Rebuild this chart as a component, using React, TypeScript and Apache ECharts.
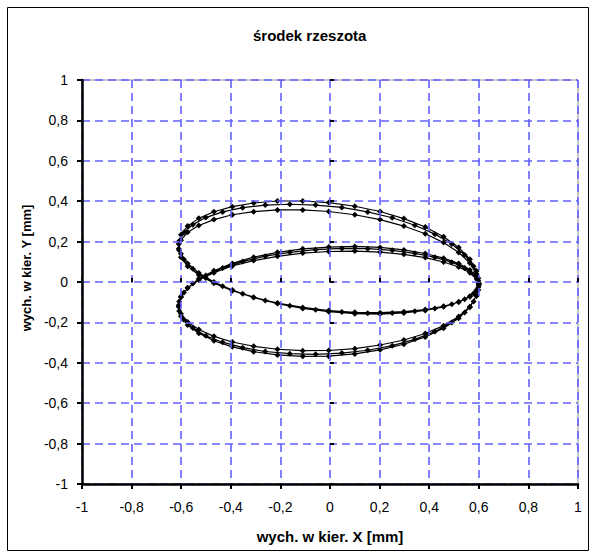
import React, { useEffect, useRef } from "react";
import * as echarts from "echarts";

// x positions (mm) for samples on the 5-degree grid and the offset grid (one half-cycle, repeats)
const xA = [0.600, 0.591, 0.564, 0.519, 0.458, 0.384, 0.298, 0.202, 0.100, -0.005, -0.110, -0.212, -0.308, -0.394, -0.468, -0.529, -0.574, -0.601, -0.610, -0.601, -0.574, -0.529, -0.468, -0.394, -0.308, -0.212, -0.110, -0.005, 0.100, 0.202, 0.298, 0.384, 0.458, 0.519, 0.564, 0.591];
const xB = [0.598, 0.579, 0.543, 0.491, 0.423, 0.342, 0.251, 0.152, 0.048, -0.058, -0.162, -0.261, -0.352, -0.433, -0.501, -0.553, -0.589, -0.608, -0.608, -0.589, -0.553, -0.501, -0.433, -0.352, -0.261, -0.162, -0.058, 0.048, 0.152, 0.251, 0.342, 0.423, 0.491, 0.543, 0.579, 0.598];

// y positions (mm) for three consecutive loops
const y1 = [-0.015, 0.040, 0.094, 0.146, 0.195, 0.239, 0.277, 0.309, 0.333, 0.349, 0.357, 0.357, 0.348, 0.333, 0.309, 0.280, 0.246, 0.207, 0.165, 0.122, 0.078, 0.035, -0.006, -0.043, -0.076, -0.104, -0.126, -0.141, -0.150, -0.152, -0.147, -0.136, -0.120, -0.099, -0.073, -0.045,
  -0.015, 0.016, 0.046, 0.074, 0.099, 0.121, 0.137, 0.148, 0.153, 0.151, 0.143, 0.127, 0.106, 0.079, 0.046, 0.010, -0.030, -0.072, -0.115, -0.157, -0.198, -0.235, -0.269, -0.297, -0.318, -0.333, -0.340, -0.339, -0.330, -0.312, -0.287, -0.255, -0.216, -0.171, -0.122, -0.069];
const y2 = [0.019, 0.078, 0.134, 0.188, 0.237, 0.281, 0.318, 0.347, 0.369, 0.381, 0.385, 0.381, 0.368, 0.347, 0.319, 0.284, 0.245, 0.203, 0.157, 0.111, 0.065, 0.020, -0.021, -0.058, -0.091, -0.117, -0.137, -0.149, -0.155, -0.154, -0.145, -0.131, -0.110, -0.086, -0.057, -0.026,
  0.006, 0.038, 0.069, 0.098, 0.122, 0.142, 0.157, 0.165, 0.166, 0.160, 0.147, 0.128, 0.101, 0.069, 0.032, -0.008, -0.052, -0.097, -0.143, -0.187, -0.228, -0.266, -0.298, -0.325, -0.344, -0.355, -0.358, -0.352, -0.338, -0.315, -0.284, -0.245, -0.201, -0.151, -0.096, -0.039];
const y3 = [-0.007, 0.054, 0.113, 0.171, 0.224, 0.272, 0.314, 0.349, 0.375, 0.393, 0.401, 0.401, 0.391, 0.373, 0.348, 0.315, 0.277, 0.234, 0.188, 0.140, 0.092, 0.045, 0.000, -0.040, -0.077, -0.107, -0.131, -0.147, -0.157, -0.159, -0.153, -0.141, -0.123, -0.099, -0.071, -0.040,
  -0.007, 0.027, 0.060, 0.091, 0.118, 0.141, 0.159, 0.171, 0.176, 0.173, 0.164, 0.147, 0.123, 0.092, 0.056, 0.016, -0.029, -0.075, -0.122, -0.169, -0.213, -0.254, -0.291, -0.321, -0.345, -0.361, -0.368, -0.367, -0.356, -0.336, -0.308, -0.272, -0.229, -0.179, -0.125, -0.067];

const axisMin = -1;
const axisMax = 1;
const axisStep = 0.2;

const TITLE = "środek rzeszota";
const X_NAME = "wych. w kier. X [mm]";
const Y_NAME = "wych. w kier. Y [mm]";

const FONT = "'Liberation Sans', Arial, sans-serif";

const fmt = (v: number) => String(Math.round(v * 10) / 10).replace(".", ",");

export default function App() {
  const ref = useRef<HTMLDivElement>(null);
  useEffect(() => {
    if (!ref.current) return;
    const chart = echarts.init(ref.current, undefined, { renderer: "svg" });
    const n = xA.length;
    const points: number[][] = [
      ...y1.map((y, i) => [xA[i % n], y]),
      ...y2.map((y, i) => [xB[i % n], y]),
      ...y3.map((y, i) => [xA[i % n], y]),
      [xA[0], y3[0]],
    ];
    const tickStyle = { color: "#000", width: 2 };
    const gridLine = { show: true, lineStyle: { color: "#6060ff", type: [8, 5], width: 1.6 } };
    const innerTicks = {
      type: "value",
      min: axisMin,
      max: axisMax,
      interval: axisStep,
      axisLine: { show: false },
      axisTick: { show: true, inside: true, length: 4, lineStyle: tickStyle },
      axisLabel: { show: false },
      splitLine: { show: false },
    };
    chart.setOption({
      animation: false,
      backgroundColor: "#fff",
      title: {
        text: TITLE,
        left: 248,
        top: 23,
        textStyle: { fontFamily: FONT, fontSize: 15, fontWeight: "bold", color: "#000" },
      },
      graphic: [
        {
          type: "rect",
          shape: { x: 7.5, y: 7.5, width: 581, height: 543 },
          style: { fill: "none", stroke: "#000", lineWidth: 1 },
          silent: true,
        },
      ],
      grid: {
        left: 82,
        right: 18,
        top: 80,
        bottom: 74,
        show: true,
        borderColor: "#909090",
        borderWidth: 1,
        backgroundColor: "transparent",
      },
      xAxis: [
        {
          type: "value",
          min: axisMin,
          max: axisMax,
          interval: axisStep,
          position: "bottom",
          name: X_NAME,
          nameLocation: "middle",
          nameGap: 45,
          nameTextStyle: { fontFamily: FONT, fontSize: 15, fontWeight: "bold", color: "#000" },
          axisLine: { show: true, onZero: false, lineStyle: { color: "#000", width: 2.5 } },
          axisTick: { show: true, length: 5, lineStyle: tickStyle },
          axisLabel: { formatter: fmt, fontFamily: FONT, fontSize: 14, color: "#000", margin: 16 },
          splitLine: gridLine,
          z: 5,
        },
        { ...innerTicks, position: "bottom", z: 5 },
      ],
      yAxis: [
        {
          type: "value",
          min: axisMin,
          max: axisMax,
          interval: axisStep,
          position: "left",
          name: Y_NAME,
          nameLocation: "middle",
          nameGap: 45,
          nameTextStyle: {
            fontFamily: FONT,
            fontSize: 13,
            fontWeight: "bold",
            color: "#000",
            padding: [0, 0, 0, 28],
          },
          axisLine: { show: true, onZero: false, lineStyle: { color: "#000", width: 2.5 } },
          axisTick: { show: true, length: 5, lineStyle: tickStyle },
          axisLabel: { formatter: fmt, fontFamily: FONT, fontSize: 14, color: "#000", margin: 14 },
          splitLine: gridLine,
          z: 5,
        },
        { ...innerTicks, position: "left", z: 5 },
      ],
      series: [
        {
          type: "line",
          xAxisIndex: 0,
          yAxisIndex: 0,
          data: points,
          symbol: "diamond",
          symbolSize: 6,
          showSymbol: true,
          showAllSymbol: true,
          lineStyle: { color: "#000", width: 1.2 },
          itemStyle: { color: "#000" },
          z: 3,
        },
      ],
    });
    return () => chart.dispose();
  }, []);
  return (
    <div
      ref={ref}
      style={{ position: "absolute", left: 0, top: 0, width: 596, height: 558, background: "#fff" }}
    />
  );
}
